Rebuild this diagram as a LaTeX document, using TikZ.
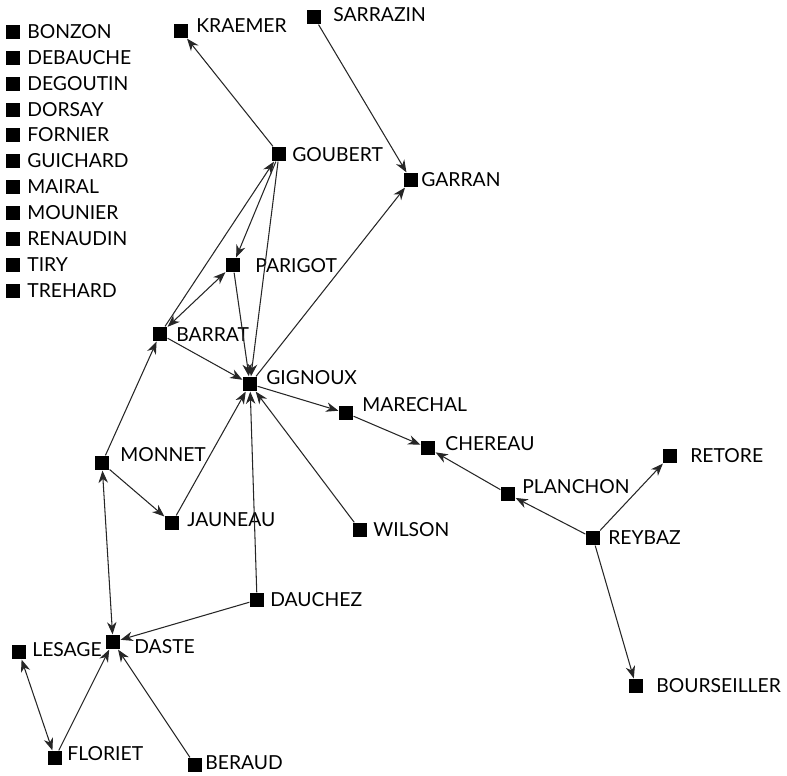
\documentclass[tikz,border=0pt]{standalone}
\usepackage{fontspec}
\setmainfont{Lato}
\usetikzlibrary{arrows.meta}

\tikzset{
  actor/.style={fill=black, inner sep=0, minimum size=0.29cm},
  tag/.style={anchor=west, inner sep=0, text height=7.6pt, text depth=0pt, font=\fontsize{11}{13}\selectfont},
  link/.style={-{Stealth[length=7pt,width=5.4pt,inset=2.2pt]}, line width=0.6pt, draw=black!85},
  mutual/.style={{Stealth[length=7pt,width=5.4pt,inset=2.2pt]}-{Stealth[length=7pt,width=5.4pt,inset=2.2pt]}, line width=0.6pt, draw=black!85}
}

\begin{document}
\begin{tikzpicture}[x=0.02cm,y=-0.02cm]
    \useasboundingbox (0,0) rectangle (787,776);

    % isolates
    \node[actor] (bonzon) at (13,32) {};    \node[tag] at (27,32) {BONZON};
    \node[actor] (debauche) at (13,58) {};  \node[tag] at (27,58) {DEBAUCHE};
    \node[actor] (degoutin) at (13,84) {};  \node[tag] at (27,84) {DEGOUTIN};
    \node[actor] (dorsay) at (13,110) {};   \node[tag] at (27,110) {DORSAY};
    \node[actor] (fornier) at (13,135) {};  \node[tag] at (27,135) {FORNIER};
    \node[actor] (guichard) at (13,161) {}; \node[tag] at (27,161) {GUICHARD};
    \node[actor] (mairal) at (13,187) {};   \node[tag] at (27,187) {MAIRAL};
    \node[actor] (mounier) at (13,213) {};  \node[tag] at (27,213) {MOUNIER};
    \node[actor] (renaudin) at (13,239) {}; \node[tag] at (27,239) {RENAUDIN};
    \node[actor] (tiry) at (13,265) {};     \node[tag] at (27,265) {TIRY};
    \node[actor] (trehard) at (13,291) {};  \node[tag] at (27,291) {TREHARD};

    % network
    \node[actor] (kraemer) at (181,31) {};      \node[tag] at (196,26) {KRAEMER};
    \node[actor] (sarrazin) at (314,17) {};     \node[tag] at (333,15) {SARRAZIN};
    \node[actor] (goubert) at (279,154) {};     \node[tag] at (292,155) {GOUBERT};
    \node[actor] (garran) at (411,180) {};      \node[tag] at (421,180) {GARRAN};
    \node[actor] (parigot) at (233,265) {};     \node[tag] at (255,266) {PARIGOT};
    \node[actor] (barrat) at (160,334) {};      \node[tag] at (176,335) {BARRAT};
    \node[actor] (gignoux) at (250,384) {};     \node[tag] at (266,378) {GIGNOUX};
    \node[actor] (marechal) at (346,413) {};    \node[tag] at (362,405) {MARECHAL};
    \node[actor] (chereau) at (428,448) {};     \node[tag] at (445,444) {CHEREAU};
    \node[actor] (monnet) at (102,463) {};      \node[tag] at (120,455) {MONNET};
    \node[actor] (jauneau) at (172,523) {};     \node[tag] at (187,520) {JAUNEAU};
    \node[actor] (wilson) at (360,530) {};      \node[tag] at (373,530) {WILSON};
    \node[actor] (planchon) at (508,494) {};    \node[tag] at (522,487) {PLANCHON};
    \node[actor] (reybaz) at (593,538) {};      \node[tag] at (608,538) {REYBAZ};
    \node[actor] (retore) at (670,456) {};      \node[tag] at (690,456) {RETORE};
    \node[actor] (bourseiller) at (636,686) {}; \node[tag] at (656,686) {BOURSEILLER};
    \node[actor] (dauchez) at (257,600) {};     \node[tag] at (270,600) {DAUCHEZ};
    \node[actor] (daste) at (113,642) {};       \node[tag] at (134,647) {DASTE};
    \node[actor] (lesage) at (19,652) {};       \node[tag] at (32,650) {LESAGE};
    \node[actor] (floriet) at (55,758) {};      \node[tag] at (67,754) {FLORIET};
    \node[actor] (beraud) at (195,765) {};      \node[tag] at (205,763) {BERAUD};

    \draw[link] (goubert) -- (kraemer);
    \draw[link] (sarrazin) -- (garran);
    \draw[link] (gignoux) -- (garran);
    \draw[link] (barrat) -- (goubert);
    \draw[link] (goubert) -- (parigot);
    \draw[link] (goubert) -- (gignoux);
    \draw[mutual] (barrat) -- (parigot);
    \draw[link] (parigot) -- (gignoux);
    \draw[link] (barrat) -- (gignoux);
    \draw[link] (monnet) -- (barrat);
    \draw[link] (monnet) -- (jauneau);
    \draw[link] (jauneau) -- (gignoux);
    \draw[link] (dauchez) -- (gignoux);
    \draw[link] (wilson) -- (gignoux);
    \draw[link] (gignoux) -- (marechal);
    \draw[link] (marechal) -- (chereau);
    \draw[link] (planchon) -- (chereau);
    \draw[link] (reybaz) -- (planchon);
    \draw[link] (reybaz) -- (retore);
    \draw[link] (reybaz) -- (bourseiller);
    \draw[mutual] (daste) -- (monnet);
    \draw[link] (dauchez) -- (daste);
    \draw[mutual] (lesage) -- (floriet);
    \draw[link] (floriet) -- (daste);
    \draw[link] (beraud) -- (daste);
\end{tikzpicture}
\end{document}
